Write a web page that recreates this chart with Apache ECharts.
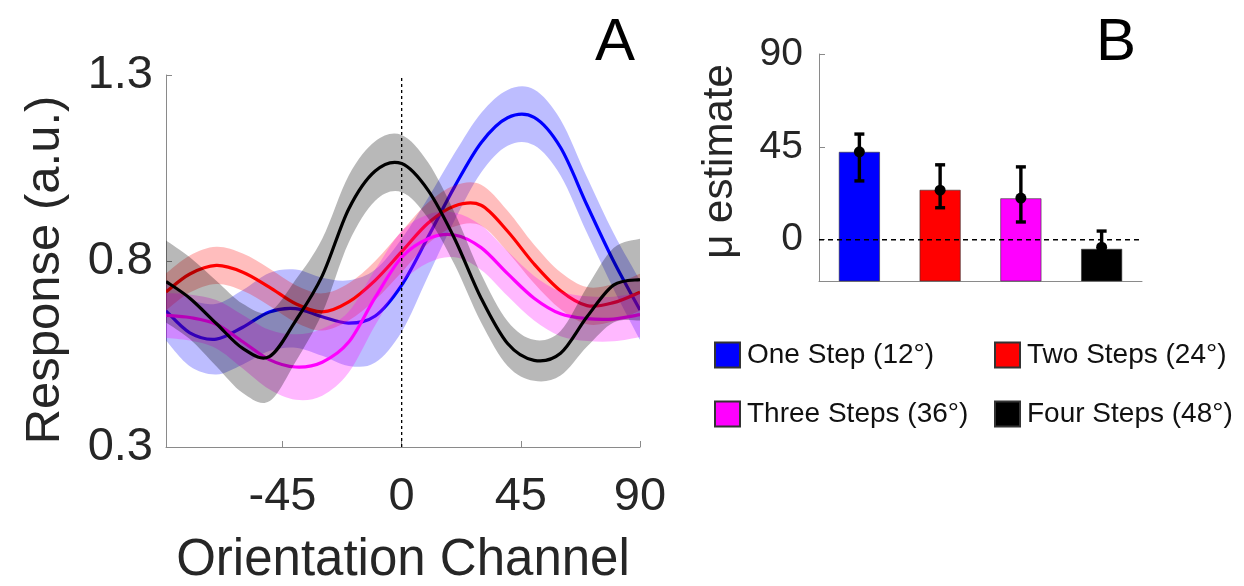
<!DOCTYPE html>
<html>
<head>
<meta charset="utf-8">
<script src="https://cdn.jsdelivr.net/npm/echarts@6/dist/echarts.min.js"></script>
<style>
html,body{margin:0;padding:0;background:#fff;}
#chart{width:1244px;height:586px;}
</style>
</head>
<body>
<div id="chart"></div>
<script>
// ---------- Panel A data ----------
const channels = [-89, -80, -70, -60, -50, -40, -30, -20, -10, 0, 10, 20, 30, 40, 50, 60, 70, 80, 90];
const oneStepMean   = [0.666, 0.607, 0.590, 0.622, 0.663, 0.672, 0.650, 0.633, 0.652, 0.735, 0.865, 1.000, 1.118, 1.185, 1.186, 1.105, 0.950, 0.800, 0.668];
const oneStepSem    = [0.080, 0.090, 0.095, 0.100, 0.105, 0.105, 0.105, 0.115, 0.125, 0.125, 0.105, 0.090, 0.080, 0.075, 0.075, 0.075, 0.075, 0.075, 0.080];
const twoStepMean   = [0.717, 0.765, 0.788, 0.770, 0.730, 0.685, 0.663, 0.690, 0.748, 0.825, 0.902, 0.948, 0.950, 0.880, 0.792, 0.720, 0.680, 0.688, 0.716];
const twoStepSem    = [0.050, 0.050, 0.050, 0.050, 0.050, 0.050, 0.050, 0.050, 0.052, 0.055, 0.055, 0.055, 0.055, 0.055, 0.052, 0.050, 0.050, 0.050, 0.050];
const threeStepMean = [0.654, 0.648, 0.630, 0.583, 0.535, 0.515, 0.528, 0.582, 0.702, 0.810, 0.860, 0.870, 0.836, 0.766, 0.700, 0.658, 0.645, 0.644, 0.656];
const threeStepSem  = [0.060, 0.062, 0.065, 0.072, 0.080, 0.088, 0.090, 0.082, 0.075, 0.070, 0.065, 0.060, 0.060, 0.060, 0.060, 0.060, 0.060, 0.060, 0.060];
const fourStepMean  = [0.745, 0.700, 0.632, 0.565, 0.543, 0.640, 0.760, 0.940, 1.042, 1.062, 0.990, 0.860, 0.700, 0.578, 0.533, 0.552, 0.650, 0.735, 0.750];
const fourStepSem   = [0.110, 0.110, 0.115, 0.120, 0.120, 0.110, 0.100, 0.090, 0.080, 0.077, 0.075, 0.070, 0.065, 0.060, 0.055, 0.060, 0.080, 0.100, 0.110];
const respTicks = [0.3, 0.8, 1.3];
const channelTicks = [-45, 0, 45, 90];

// ---------- Panel B data ----------
const conditions = ['One Step (12°)', 'Two Steps (24°)', 'Three Steps (36°)', 'Four Steps (48°)'];
const muEstimate = [42.4, 24.0, 19.9, -4.6];
const muLow      = [28.5, 15.5, 8.6, -13.4];
const muHigh     = [51.2, 36.3, 35.3, 4.2];
const muDot      = [42.6, 24.0, 20.2, -3.6];
const muTicks = [0, 45, 90];

const colors = ['#0000ff', '#ff0000', '#ff00ff', '#000000'];
const bandColors = ['rgba(0,0,255,0.26)', 'rgba(255,0,0,0.26)', 'rgba(255,0,255,0.28)', 'rgba(0,0,0,0.28)'];
const means = [oneStepMean, twoStepMean, threeStepMean, fourStepMean];
const sems = [oneStepSem, twoStepSem, threeStepSem, fourStepSem];

const FONT = '"Liberation Sans", Arial, sans-serif';
const AXC = '#8a8a8a';
const TXT = '#262626';

// Catmull-Rom spline through pixel points -> SVG path segments
function splineSegs(p) {
  let d = '';
  const n = p.length;
  for (let i = 0; i < n - 1; i++) {
    const p0 = p[Math.max(i - 1, 0)], p1 = p[i], p2 = p[i + 1], p3 = p[Math.min(i + 2, n - 1)];
    const c1x = p1[0] + (p2[0] - p0[0]) / 6, c1y = p1[1] + (p2[1] - p0[1]) / 6;
    const c2x = p2[0] - (p3[0] - p1[0]) / 6, c2y = p2[1] - (p3[1] - p1[1]) / 6;
    d += ' C' + c1x.toFixed(2) + ' ' + c1y.toFixed(2) + ' ' + c2x.toFixed(2) + ' ' + c2y.toFixed(2) + ' ' + p2[0].toFixed(2) + ' ' + p2[1].toFixed(2);
  }
  return d;
}

const series = [];
for (let k = 0; k < 4; k++) {
  series.push({
    name: conditions[k],
    type: 'custom', xAxisIndex: 0, yAxisIndex: 0,
    color: colors[k],
    itemStyle: {color: colors[k], borderColor: '#333', borderWidth: 1},
    clip: true,
    data: channels.map((x, i) => [x, means[k][i] - sems[k][i], means[k][i], means[k][i] + sems[k][i]]),
    renderItem: (function (kk) {
      return function (params, api) {
        if (params.dataIndexInside !== 0) return null;
        const n = channels.length;
        const up = [], lo = [], mid = [];
        for (let j = 0; j < n; j++) {
          const x = api.value(0, j);
          lo.push(api.coord([x, api.value(1, j)]));
          mid.push(api.coord([x, api.value(2, j)]));
          up.push(api.coord([x, api.value(3, j)]));
        }
        const loR = lo.slice().reverse();
        const band = 'M' + up[0][0] + ' ' + up[0][1] + splineSegs(up) +
          ' L' + loR[0][0] + ' ' + loR[0][1] + splineSegs(loR) + ' Z';
        const line = 'M' + mid[0][0] + ' ' + mid[0][1] + splineSegs(mid);
        return {
          type: 'group', children: [
            {type: 'path', shape: {pathData: band}, style: {fill: bandColors[kk], stroke: null}},
            {type: 'path', shape: {pathData: line}, style: {fill: null, stroke: colors[kk], lineWidth: 3.2}}
          ]
        };
      };
    })(k)
  });
}
// dashed vertical line at 0
series.push({
  type: 'line', xAxisIndex: 0, yAxisIndex: 0, symbol: 'none', silent: true,
  lineStyle: {color: '#000', width: 1.3, type: [3, 3]},
  data: [[0, respTicks[0]], [0, respTicks[2]]]
});

// Panel B bars (from axis bottom up to value)
series.push({
  type: 'custom', xAxisIndex: 1, yAxisIndex: 1,
  data: muEstimate.map((v, i) => [i, v]),
  renderItem: function (params, api) {
    const i = api.value(0), v = api.value(1);
    const top = api.coord([i, v]);
    const bot = api.coord([i, -20]);
    const w = api.size([0.5, 0])[0];
    return {
      type: 'rect',
      shape: {x: top[0] - w / 2, y: top[1], width: w, height: bot[1] - top[1]},
      style: {fill: colors[i], stroke: '#333', lineWidth: 0.6}
    };
  }
});
// zero dashed line
series.push({
  type: 'line', xAxisIndex: 1, yAxisIndex: 1, symbol: 'none', silent: true,
  lineStyle: {color: '#000', width: 1.5, type: [5, 4]},
  data: [[-0.5, 0], [3.5, 0]], z: 3
});
// error bars
series.push({
  type: 'custom', xAxisIndex: 1, yAxisIndex: 1, z: 4,
  data: muEstimate.map((v, i) => [i, muLow[i], muHigh[i], muDot[i]]),
  renderItem: function (params, api) {
    const i = api.value(0);
    const lo = api.coord([i, api.value(1)]);
    const hi = api.coord([i, api.value(2)]);
    const d = api.coord([i, api.value(3)]);
    const cw = 5;
    const s = {stroke: '#000', lineWidth: 3.4};
    return {
      type: 'group', children: [
        {type: 'line', shape: {x1: lo[0], y1: lo[1], x2: hi[0], y2: hi[1]}, style: s},
        {type: 'line', shape: {x1: hi[0] - cw, y1: hi[1], x2: hi[0] + cw, y2: hi[1]}, style: s},
        {type: 'line', shape: {x1: lo[0] - cw, y1: lo[1], x2: lo[0] + cw, y2: lo[1]}, style: s},
        {type: 'circle', shape: {cx: d[0], cy: d[1], r: 5.5}, style: {fill: '#000'}}
      ]
    };
  }
});

function legendAt(name, left, top) {
  return {
    data: [name], left: left, top: top, icon: 'rect',
    itemWidth: 25, itemHeight: 25, itemGap: 0, padding: 0,
    selectedMode: false,
    textStyle: {fontFamily: FONT, fontSize: 28, color: '#111', padding: [0, 0, 0, 2]}
  };
}

const option = {
  animation: false,
  backgroundColor: '#fff',
  textStyle: {fontFamily: FONT},
  grid: [
    {left: 166, right: 604, top: 75, bottom: 139, containLabel: false, outerBoundsMode: 'none'},
    {left: 819, right: 102, top: 54, bottom: 305, containLabel: false, outerBoundsMode: 'none'}
  ],
  xAxis: [
    {
      type: 'value', gridIndex: 0, min: -89, max: 90,
      name: 'Orientation Channel', nameLocation: 'middle', nameGap: 88,
      nameTextStyle: {fontFamily: FONT, fontSize: 51, color: TXT},
      axisLine: {onZero: false, lineStyle: {color: AXC, width: 1}},
      axisTick: {inside: true, length: 6, customValues: channelTicks, lineStyle: {color: AXC}},
      axisLabel: {customValues: channelTicks, fontFamily: FONT, fontSize: 47, color: TXT, margin: 27},
      splitLine: {show: false}
    },
    {
      type: 'value', gridIndex: 1, min: -0.5, max: 3.5,
      axisLine: {onZero: false, lineStyle: {color: AXC, width: 1}},
      axisTick: {show: false}, axisLabel: {show: false}, splitLine: {show: false}
    }
  ],
  yAxis: [
    {
      type: 'value', gridIndex: 0, min: 0.3, max: 1.3,
      name: 'Response (a.u.)', nameLocation: 'middle', nameGap: 96,
      nameTextStyle: {fontFamily: FONT, fontSize: 49, color: TXT, padding: [0, 18, 0, 0]},
      axisLine: {show: true, onZero: false, lineStyle: {color: AXC, width: 1}},
      axisTick: {show: true, inside: true, length: 6, customValues: respTicks, lineStyle: {color: AXC}},
      axisLabel: {customValues: respTicks, fontFamily: FONT, fontSize: 47, color: TXT, margin: 13,
        formatter: v => v.toFixed(1)},
      splitLine: {show: false}
    },
    {
      type: 'value', gridIndex: 1, min: -20, max: 90,
      name: 'μ estimate', nameLocation: 'middle', nameGap: 78,
      nameTextStyle: {fontFamily: FONT, fontSize: 42, color: TXT, padding: [0, 0, 0, 12]},
      axisLine: {show: true, onZero: false, lineStyle: {color: AXC, width: 1}},
      axisTick: {show: true, inside: true, length: 6, customValues: muTicks, lineStyle: {color: AXC}},
      axisLabel: {customValues: muTicks, fontFamily: FONT, fontSize: 39, color: TXT, margin: 16},
      splitLine: {show: false}
    }
  ],
  legend: [
    legendAt(conditions[0], 714, 341),
    legendAt(conditions[1], 994, 341),
    legendAt(conditions[2], 714, 400),
    legendAt(conditions[3], 994, 400)
  ],
  graphic: [
    {type: 'text', left: 595, top: 13, style: {text: 'A', font: '60px "Liberation Sans", Arial', fill: '#000'}},
    {type: 'text', left: 1096, top: 13, style: {text: 'B', font: '60px "Liberation Sans", Arial', fill: '#000'}}
  ],
  series: series
};

const chart = echarts.init(document.getElementById('chart'), null, {renderer: 'canvas'});
chart.setOption(option);
</script>
</body>
</html>
